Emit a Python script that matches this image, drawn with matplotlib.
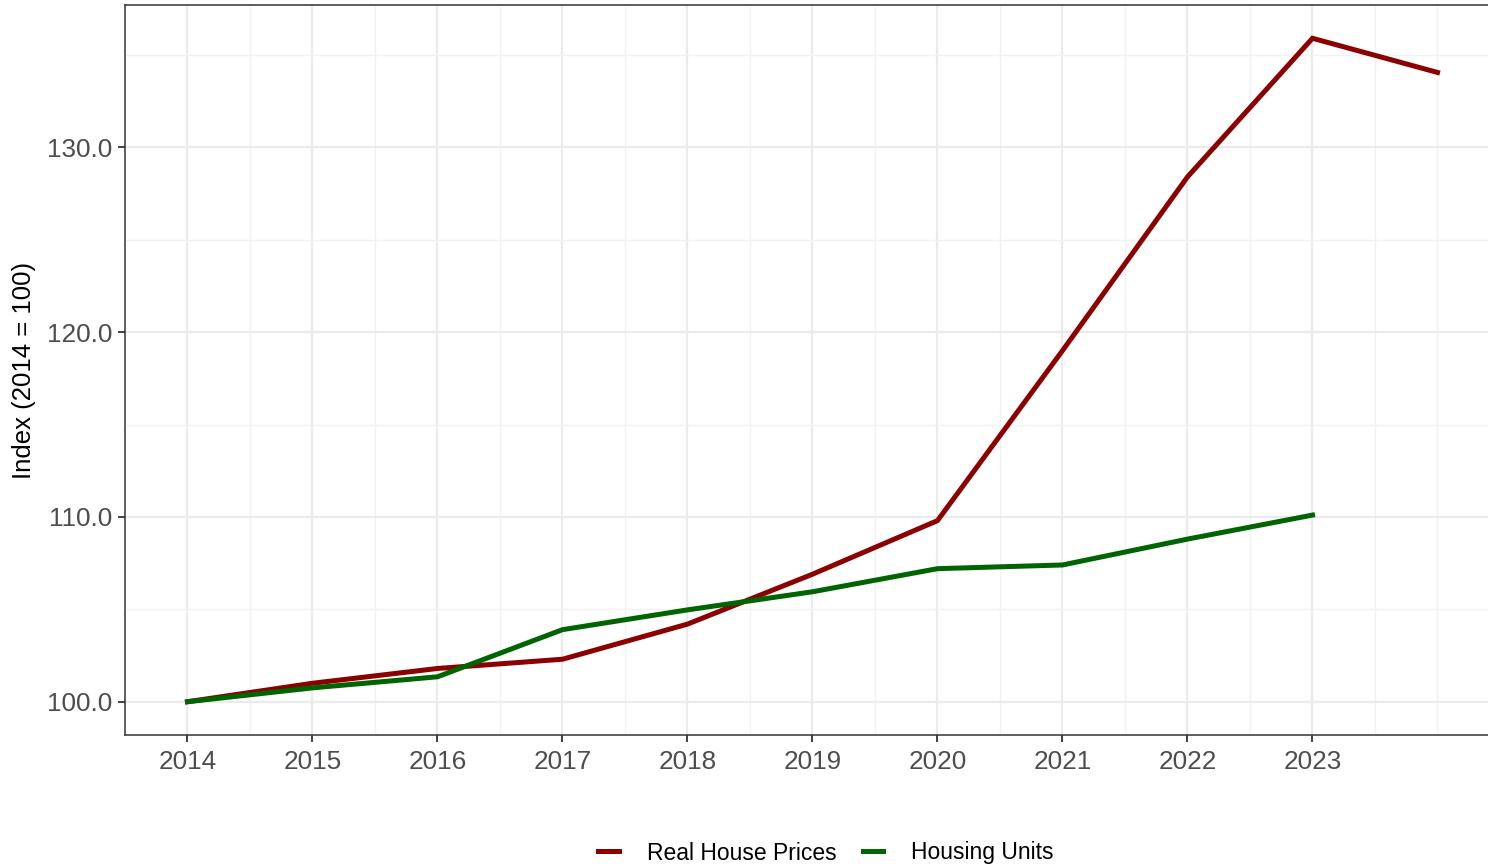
import matplotlib
matplotlib.use("Agg")
import matplotlib.pyplot as plt
import numpy as np

# data (index, 2014 = 100)
years_price = [2014, 2015, 2016, 2017, 2018, 2019, 2020, 2021, 2022, 2023, 2024]
real_house_prices = [100.0, 101.0, 101.8, 102.3, 104.2, 106.9, 109.8, 119.0, 128.4, 135.9, 134.05]

years_units = [2014, 2015, 2016, 2017, 2018, 2019, 2020, 2021, 2022, 2023]
housing_units = [100.0, 100.75, 101.35, 103.9, 104.97, 105.95, 107.2, 107.4, 108.8, 110.1]

x_ticks = [2014, 2015, 2016, 2017, 2018, 2019, 2020, 2021, 2022, 2023]
y_ticks = [100, 110, 120, 130]

plt.rcParams['font.family'] = ['Liberation Sans', 'DejaVu Sans']

fig = plt.figure(figsize=(14.88, 8.64), dpi=100)
# panel runs past the right edge of the picture, as in the reference
ax = fig.add_axes([125 / 1488, 1 - 735 / 864, (1500 - 125) / 1488, (735 - 5) / 864])

ax.plot(years_price, real_house_prices, color='#8b0000', lw=3.6, label='Real House Prices',
        solid_joinstyle='miter', zorder=3)
ax.plot(years_units, housing_units, color='#006400', lw=3.6, label='Housing Units',
        solid_joinstyle='miter', zorder=3)

ax.set_xlim(2013.5, 2024.5)
ax.set_ylim(98.2, 137.7)

ax.set_xticks(x_ticks)
ax.set_xticklabels([str(y) for y in x_ticks])
ax.set_yticks(y_ticks)
ax.set_yticklabels(['%.1f' % v for v in y_ticks])
halves = np.arange(2014.5, 2024.1, 0.5)
ax.set_xticks(halves[halves % 1 != 0].tolist() + [2024], minor=True)
ax.set_yticks([105, 115, 125, 135], minor=True)

ax.grid(which='major', color='#ebebeb', lw=1.6, zorder=0)
ax.grid(which='minor', color='#f2f2f2', lw=1.0, zorder=0)
ax.set_axisbelow(True)

ax.tick_params(which='major', length=5, width=1.3, color='#333333', labelcolor='#4d4d4d',
               labelsize=18.8)
ax.tick_params(axis='x', which='major', pad=6)
ax.tick_params(axis='y', which='major', pad=4)
ax.tick_params(which='minor', length=0)
for sp in ax.spines.values():
    sp.set_color('#333333')
    sp.set_linewidth(1.1)

ax.set_ylabel('Index (2014 = 100)', fontsize=18.5, color='black', labelpad=8)

fig.legend(loc='center', bbox_to_anchor=(0.555, 1 - 853 / 864), ncol=2, frameon=False,
           fontsize=16.5, handlelength=0.9, handletextpad=1.2, columnspacing=1.15)

fig.savefig('out.png', dpi=100)
